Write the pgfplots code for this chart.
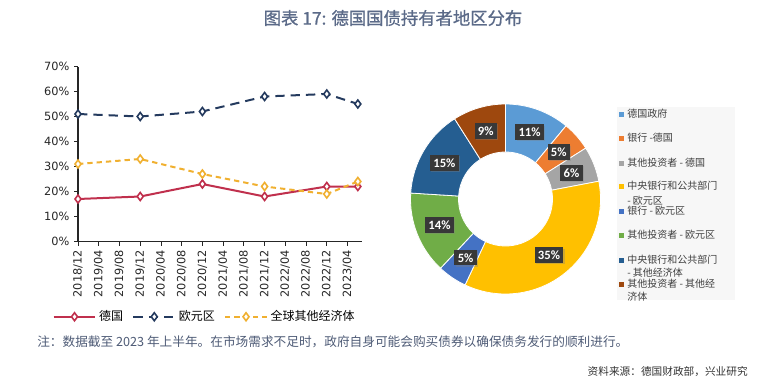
\documentclass[border=0pt]{standalone}
\usepackage{fontspec}
\setmainfont{DejaVu Sans}
\newfontfamily\cjk{Noto Sans CJK SC}
\newfontfamily\cjkt{Noto Sans CJK SC}[FakeBold=0.9]
\newfontfamily\labf{Carlito}
\usepackage{pgfplots}
\pgfplotsset{compat=1.18}
\usetikzlibrary{shadows}
\definecolor{de}{HTML}{C0304D}
\definecolor{ez}{HTML}{243A5E}
\definecolor{gl}{HTML}{F0B030}
\definecolor{c1}{HTML}{5B9BD5}
\definecolor{c2}{HTML}{ED7D31}
\definecolor{c3}{HTML}{A5A5A5}
\definecolor{c4}{HTML}{FFC000}
\definecolor{c5}{HTML}{4472C4}
\definecolor{c6}{HTML}{70AD47}
\definecolor{c7}{HTML}{255E91}
\definecolor{c8}{HTML}{9E480E}
\definecolor{titlec}{HTML}{5B6A88}
\definecolor{notec}{HTML}{4E5B76}
\definecolor{txt}{HTML}{404040}
\begin{document}
\begin{tikzpicture}[x=0.75pt,y=0.75pt]
\path[use as bounding box] (0,0) rectangle (759,387);
\node[font=\cjkt\fontsize{13}{15}\selectfont, text=titlec] at (393,369) {图表 17: 德国国债持有者地区分布};

\begin{axis}[at={(58.5pt,109.125pt)}, anchor=south west, scale only axis,
  width=213pt, height=131.25pt,
  xmin=0, xmax=54.8, ymin=0, ymax=70,
  axis x line*=bottom, axis y line*=left,
  axis line style={-, black!85, line width=0.8pt},
  tick align=outside, major tick length=3pt,
  tick style={black!85, line width=0.6pt},
  xtick={0,4,...,52},
  xticklabels={2018/12,2019/04,2019/08,2019/12,2020/04,2020/08,2020/12,2021/04,2021/08,2021/12,2022/04,2022/08,2022/12,2023/04},
  x tick label style={rotate=90, anchor=east},
  ytick={0,10,...,70},
  yticklabel={\pgfmathprintnumber{\tick}\%},
  tick label style={font=\fontsize{8.5}{10}\selectfont, text=black!85},
  /pgf/number format/assume math mode=true,
  legend columns=3,
  legend style={at={(0.447,-0.43)}, anchor=center, draw=none, fill=none,
    font=\cjk\fontsize{9}{10}\selectfont, inner sep=0pt,
    /tikz/every even column/.append style={column sep=5pt}},
  legend image code/.code={\draw[mark repeat=2,mark phase=2,#1] plot coordinates {(0cm,0cm) (0.55cm,0cm) (1.1cm,0cm)};},
]
\addplot[de, line width=1.5pt, mark=diamond*, mark size=3pt, mark options={fill=white, solid, line width=1.2pt}]
  coordinates {(0,17)(12,18)(24,23)(36,18)(48,22)(54,22)};
\addlegendentry{德国}
\addplot[ez, line width=1.5pt, dash pattern=on 7pt off 4.5pt, mark=diamond*, mark size=3pt, mark options={fill=white, solid, line width=1.2pt}]
  coordinates {(0,51)(12,50)(24,52)(36,58)(48,59)(54,55)};
\addlegendentry{欧元区}
\addplot[gl, line width=1.5pt, dash pattern=on 4pt off 3pt, mark=diamond*, mark size=3pt, mark options={fill=white, solid, line width=1.2pt}]
  coordinates {(0,31)(12,33)(24,27)(36,22)(48,19)(54,24)};
\addlegendentry{全球其他经济体}
\end{axis}

% donut
\gdef\cum{0}
\foreach \v/\c in {11/c1,5/c2,6/c3,35/c4,5/c5,14/c6,15/c7,9/c8}{
  \pgfmathsetmacro\sa{90-3.6*\cum}
  \pgfmathsetmacro\ea{90-3.6*(\cum+\v)}
  \fill[\c, draw=white, line width=0.6pt] ([shift={(\sa:71.25pt)}]505.5,188) arc[start angle=\sa, end angle=\ea, radius=71.25pt]
     -- ([shift={(\ea:35.25pt)}]505.5,188) arc[start angle=\ea, end angle=\sa, radius=35.25pt] -- cycle;
  \pgfmathsetmacro\nc{\cum+\v}
  \global\let\cum\nc
}
\gdef\cum{0}
\foreach \v in {11,5,6,35,5,14,15,9}{
  \pgfmathsetmacro\ma{90-3.6*(\cum+\v/2)}
  \node[fill=black!78, text=white, font=\labf\bfseries\fontsize{9.5}{11}\selectfont, inner sep=2.5pt,
        drop shadow={opacity=0.35, shadow xshift=1pt, shadow yshift=-1pt}]
     at ([shift={(\ma:53.25pt)}]505.5,188) {\v\%};
  \pgfmathsetmacro\nc{\cum+\v}
  \global\let\cum\nc
}

% donut legend
\fill[black!3] (617,280) rectangle (735,87);
\foreach \y/\c/\t in {273/c1/德国政府, 249/c2/银行 -德国, 224/c3/其他投资者 - 德国, 201/c4/中央银行和公共部门,
   176/c5/银行 - 欧元区, 152/c6/其他投资者 - 欧元区, 127/c7/中央银行和公共部门, 103/c8/其他投资者 - 其他经}{
  \fill[\c] (619,\y-2.5) rectangle (624,\y+2.5);
  \node[anchor=west, font=\cjk\fontsize{7.5}{9}\selectfont, text=txt, inner sep=0pt] at (627,\y) {\t};
}
\node[anchor=west, font=\cjk\fontsize{7.5}{9}\selectfont, text=txt, inner sep=0pt] at (627,186) {- 欧元区};
\node[anchor=west, font=\cjk\fontsize{7.5}{9}\selectfont, text=txt, inner sep=0pt] at (627,114) {- 其他经济体};
\node[anchor=west, font=\cjk\fontsize{7.5}{9}\selectfont, text=txt, inner sep=0pt] at (627,90) {济体};

% notes
\node[anchor=west, font=\cjk\fontsize{9.5}{11}\selectfont, text=notec, inner sep=0pt] at (37,45)
  {注：数据截至 2023 年上半年。在市场需求不足时，政府自身可能会购买债券以确保债务发行的顺利进行。};
\node[anchor=east, font=\cjk\fontsize{8}{10}\selectfont, text=black!80, inner sep=0pt] at (748,15)
  {资料来源：德国财政部，兴业研究};
\end{tikzpicture}
\end{document}
